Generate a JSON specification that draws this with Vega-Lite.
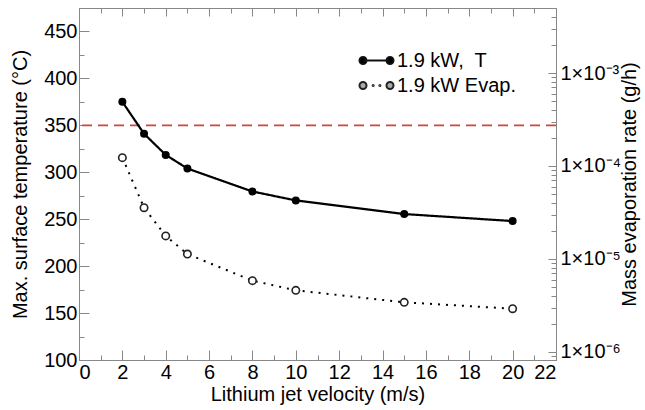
{
  "$schema": "https://vega.github.io/schema/vega-lite/v6.json",
  "width": 477,
  "height": 352,
  "autosize": {"type": "none"},
  "padding": {"left": 79, "top": 8, "right": 89, "bottom": 50},
  "background": "white",
  "config": {
    "view": {"stroke": "#888", "strokeWidth": 1},
    "font": "Liberation Sans",
    "axis": {
      "grid": false,
      "domainColor": "#888",
      "tickColor": "#888",
      "labelColor": "black",
      "titleColor": "black",
      "labelFont": "Liberation Sans",
      "titleFont": "Liberation Sans",
      "titleFontWeight": "normal",
      "labelFontSize": 20,
      "titleFontSize": 20
    },
    "legend": {
      "orient": "none",
      "legendX": 283,
      "legendY": 38,
      "labelFontSize": 20,
      "labelFont": "Liberation Sans",
      "labelColor": "black",
      "symbolSize": 729,
      "symbolStrokeWidth": 2,
      "symbolOpacity": 1,
      "labelOffset": 6,
      "rowPadding": 0
    }
  },
  "data": {
    "values": [
      {"v": 2, "val": 375, "series": "1.9 kW,\u00a0 T"},
      {"v": 3, "val": 341, "series": "1.9 kW,\u00a0 T"},
      {"v": 4, "val": 318.5, "series": "1.9 kW,\u00a0 T"},
      {"v": 5, "val": 304, "series": "1.9 kW,\u00a0 T"},
      {"v": 8, "val": 279.5, "series": "1.9 kW,\u00a0 T"},
      {"v": 10, "val": 270, "series": "1.9 kW,\u00a0 T"},
      {"v": 15, "val": 255.5, "series": "1.9 kW,\u00a0 T"},
      {"v": 20, "val": 248, "series": "1.9 kW,\u00a0 T"},
      {"v": 2, "val": 0.000123, "series": "1.9 kW Evap."},
      {"v": 3, "val": 0.0000356, "series": "1.9 kW Evap."},
      {"v": 4, "val": 0.0000177, "series": "1.9 kW Evap."},
      {"v": 5, "val": 0.0000113, "series": "1.9 kW Evap."},
      {"v": 8, "val": 0.00000585, "series": "1.9 kW Evap."},
      {"v": 10, "val": 0.0000046, "series": "1.9 kW Evap."},
      {"v": 15, "val": 0.00000342, "series": "1.9 kW Evap."},
      {"v": 20, "val": 0.00000292, "series": "1.9 kW Evap."}
    ]
  },
  "layer": [
    {
      "transform": [{"filter": "datum.series === '1.9 kW,\u00a0 T'"}],
      "encoding": {
        "x": {
          "field": "v", "type": "quantitative",
          "scale": {"domain": [0, 22], "nice": false},
          "axis": {
            "orient": "bottom",
            "values": [0,1,2,3,4,5,6,7,8,9,10,11,12,13,14,15,16,17,18,19,20,21,22],
            "labelExpr": "datum.value % 2 === 0 ? datum.label : ''",
            "tickSize": {"condition": {"test": "datum.value % 2 === 0", "value": -10}, "value": -5},
            "labelPadding": 12,
            "title": "Lithium jet velocity (m/s)",
            "titlePadding": 2
          }
        },
        "y": {
          "field": "val", "type": "quantitative",
          "scale": {"domain": [100, 475], "nice": false, "zero": false},
          "axis": {
            "orient": "left",
            "values": [100,125,150,175,200,225,250,275,300,325,350,375,400,425,450,475],
            "labelExpr": "datum.value % 50 === 0 ? datum.label : ''",
            "tickSize": {"condition": {"test": "datum.value % 50 === 0", "value": -10}, "value": -5},
            "labelPadding": 12,
            "title": "Max. surface temperature (°C)",
            "titlePadding": 13
          }
        }
      },
      "layer": [
        {
          "data": {"values": [{"threshold": 350}]},
          "mark": {"type": "rule", "color": "#cc4444", "strokeWidth": 1.6, "strokeDash": [10, 6]},
          "encoding": {"y": {"field": "threshold", "type": "quantitative"}, "x": null}
        },
        {
          "mark": {"type": "line", "color": "black", "strokeWidth": 2.2},
          "encoding": {
            "strokeDash": {
              "field": "series", "type": "nominal",
              "scale": {"domain": ["1.9 kW Evap.", "1.9 kW,\u00a0 T"], "range": [[2, 6], [1, 0]]},
              "legend": null
            }
          }
        },
        {
          "mark": {"type": "point", "filled": true, "color": "black", "size": 64, "opacity": 1}
        }
      ]
    },
    {
      "transform": [{"filter": "datum.series === '1.9 kW Evap.'"}],
      "encoding": {
        "x": {
          "field": "v", "type": "quantitative",
          "scale": {"domain": [0, 22], "nice": false},
          "axis": null
        },
        "y": {
          "field": "val", "type": "quantitative",
          "scale": {"type": "log", "domain": [0.00000082, 0.005], "nice": false},
          "axis": {
            "orient": "right",
            "values": [0.0000009, 0.000001, 0.000002, 0.000003, 0.000004, 0.000005, 0.000006, 0.000007, 0.000008, 0.000009, 0.00001, 0.00002, 0.00003, 0.00004, 0.00005, 0.00006, 0.00007, 0.00008, 0.00009, 0.0001, 0.0002, 0.0003, 0.0004, 0.0005, 0.0006, 0.0007, 0.0008, 0.0009, 0.001, 0.002, 0.003, 0.004],
            "labelExpr": "abs(log(datum.value)/LN10 - round(log(datum.value)/LN10)) < 0.001 ? (round(log(datum.value)/LN10) === -3 ? '1×10⁻³' : round(log(datum.value)/LN10) === -4 ? '1×10⁻⁴' : round(log(datum.value)/LN10) === -5 ? '1×10⁻⁵' : '1×10⁻⁶') : ''",
            "tickSize": {"condition": {"test": "abs(log(datum.value)/LN10 - round(log(datum.value)/LN10)) < 0.001", "value": -8}, "value": -5},
            "labelPadding": 12,
            "title": "Mass evaporation rate (g/h)",
            "titleAngle": 270,
            "titlePadding": 19
          }
        }
      },
      "layer": [
        {
          "mark": {"type": "line", "color": "black", "strokeWidth": 2},
          "encoding": {"strokeDash": {"field": "series", "type": "nominal", "legend": null}}
        },
        {
          "mark": {"type": "point", "filled": true, "fill": "white", "stroke": "#222", "strokeWidth": 1.6, "size": 55, "opacity": 1}
        },
        {
          "mark": {"type": "point", "filled": true, "strokeWidth": 2, "opacity": 0},
          "encoding": {
            "shape": {
              "field": "series", "type": "nominal",
              "scale": {
                "domain": ["1.9 kW,\u00a0 T", "1.9 kW Evap."],
                "range": [
                  "M-1,0L1,0M-1.26,0A0.26,0.26,0,1,0,-0.74,0A0.26,0.26,0,1,0,-1.26,0M0.74,0A0.26,0.26,0,1,0,1.26,0A0.26,0.26,0,1,0,0.74,0",
                  "M-1.26,0A0.26,0.26,0,1,0,-0.74,0A0.26,0.26,0,1,0,-1.26,0M0.74,0A0.26,0.26,0,1,0,1.26,0A0.26,0.26,0,1,0,0.74,0M-0.29,0A0.04,0.04,0,1,0,-0.21,0A0.04,0.04,0,1,0,-0.29,0M0.21,0A0.04,0.04,0,1,0,0.29,0A0.04,0.04,0,1,0,0.21,0"
                ]
              },
              "legend": {"title": null, "symbolStrokeWidth": 2}
            },
            "fill": {
              "field": "series", "type": "nominal",
              "scale": {"domain": ["1.9 kW,\u00a0 T", "1.9 kW Evap."], "range": ["black", "#aaaaaa"]},
              "legend": {"title": null, "symbolStrokeWidth": 2}
            },
            "stroke": {
              "field": "series", "type": "nominal",
              "scale": {"domain": ["1.9 kW,\u00a0 T", "1.9 kW Evap."], "range": ["#111111", "#222222"]},
              "legend": {"title": null, "symbolStrokeWidth": 2}
            }
          }
        }
      ]
    },
    {
      "transform": [{"filter": "datum.series === '1.9 kW Evap.'"}],
      "mark": {"type": "point", "opacity": 0},
      "encoding": {
        "x": {
          "field": "v", "type": "quantitative",
          "scale": {"domain": [0, 22], "nice": false},
          "axis": {
            "orient": "top",
            "values": [0,1,2,3,4,5,6,7,8,9,10,11,12,13,14,15,16,17,18,19,20,21,22],
            "labels": false,
            "domain": false,
            "tickSize": {"condition": {"test": "datum.value % 2 === 0", "value": -8}, "value": -5},
            "title": null
          }
        }
      }
    }
  ],
  "resolve": {"scale": {"x": "independent", "y": "independent"}}
}
